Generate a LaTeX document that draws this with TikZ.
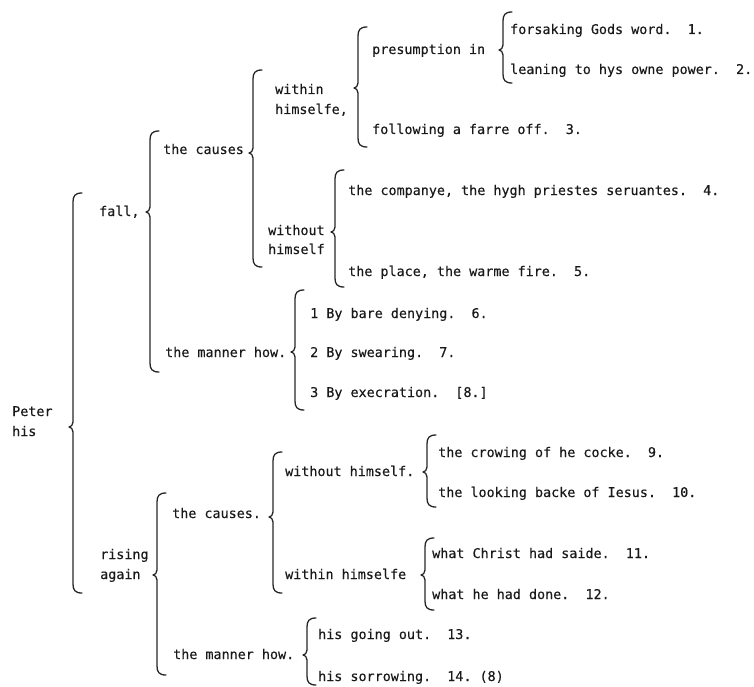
\documentclass[tikz,border=0pt]{standalone}
\usepackage{fontspec}
\setmonofont[FakeBold=0.3]{DejaVu Sans Mono}
\begin{document}
\begin{tikzpicture}[x=1pt,y=-1pt,
  lbl/.style={anchor=base west, inner sep=0pt,
    font=\ttfamily\fontsize{13.4}{16}\selectfont, text=black!90},
  bracestroke/.style={draw=black!85, line width=1.3pt, line cap=round, line join=round}]

% curly brace opening to the right: x, top, tip, bottom
\newcommand\curlybrace[4]{%
  \draw[bracestroke] ({#1+9},#2) .. controls ({#1+2},#2) and (#1,{#2+3}) .. (#1,{#2+9})
    -- (#1,{#3-5}) .. controls (#1,{#3-2}) and ({#1-2},#3) .. ({#1-4},#3)
    .. controls ({#1-2},#3) and (#1,{#3+2}) .. (#1,{#3+5})
    -- (#1,{#4-9}) .. controls (#1,{#4-3}) and ({#1+2},#4) .. ({#1+9},#4);}

\useasboundingbox (0,0) rectangle (754,687);

% root
\node[lbl] (peter) at (12,416) {Peter};
\node[lbl] (his)   at (12,436) {his};
\curlybrace{73}{193}{427}{593}

% the fall
\node[lbl] (fall) at (99,216) {fall,};
\curlybrace{150}{131}{212}{372}

\node[lbl] (fcauses) at (163,154) {the causes};
\curlybrace{253}{70}{153}{267}

\node[lbl] (within1) at (275,94)  {within};
\node[lbl] (within2) at (275,114) {himselfe,};
\curlybrace{358}{27}{88}{147}

\node[lbl] (presum) at (372,54) {presumption in};
\curlybrace{503}{12}{50}{83}
\node[lbl] (f1) at (510,34) {forsaking Gods word.~~1.};
\node[lbl] (f2) at (510,74) {leaning to hys owne power.~~2.};
\node[lbl] (f3) at (372,134) {following a farre off.~~3.};

\node[lbl] (without1) at (268,235) {without};
\node[lbl] (without2) at (268,254) {himself};
\curlybrace{335}{170}{232}{287}
\node[lbl] (f4) at (348,195) {the companye, the hygh priestes seruantes.~~4.};
\node[lbl] (f5) at (348,276) {the place, the warme fire.~~5.};

\node[lbl] (fmanner) at (165,357) {the manner how.};
\curlybrace{295}{290}{352}{410}
\node[lbl] (f6) at (310,318) {1 By bare denying.~~6.};
\node[lbl] (f7) at (310,357) {2 By swearing.~~7.};
\node[lbl] (f8) at (310,397) {3 By execration.~~[8.]};

% the rising again
\node[lbl] (rising1) at (100,559) {rising};
\node[lbl] (rising2) at (100,579) {again};
\curlybrace{157}{493}{575}{675}

\node[lbl] (rcauses) at (172,518) {the causes.};
\curlybrace{273}{452}{517}{593}

\node[lbl] (rwithout) at (285,476) {without himself.};
\curlybrace{427}{435}{472}{507}
\node[lbl] (r9)  at (438,457) {the crowing of he cocke.~~9.};
\node[lbl] (r10) at (438,497) {the looking backe of Iesus.~~10.};

\node[lbl] (rwithin) at (285,579) {within himselfe};
\curlybrace{425}{538}{575}{610}
\node[lbl] (r11) at (432,558) {what Christ had saide.~~11.};
\node[lbl] (r12) at (432,599) {what he had done.~~12.};

\node[lbl] (rmanner) at (173,659) {the manner how.};
\curlybrace{307}{618}{655}{685}
\node[lbl] (r13) at (318,639) {his going out.~~13.};
\node[lbl] (r14) at (318,681) {his sorrowing.~~14. (8)};

\end{tikzpicture}
\end{document}
